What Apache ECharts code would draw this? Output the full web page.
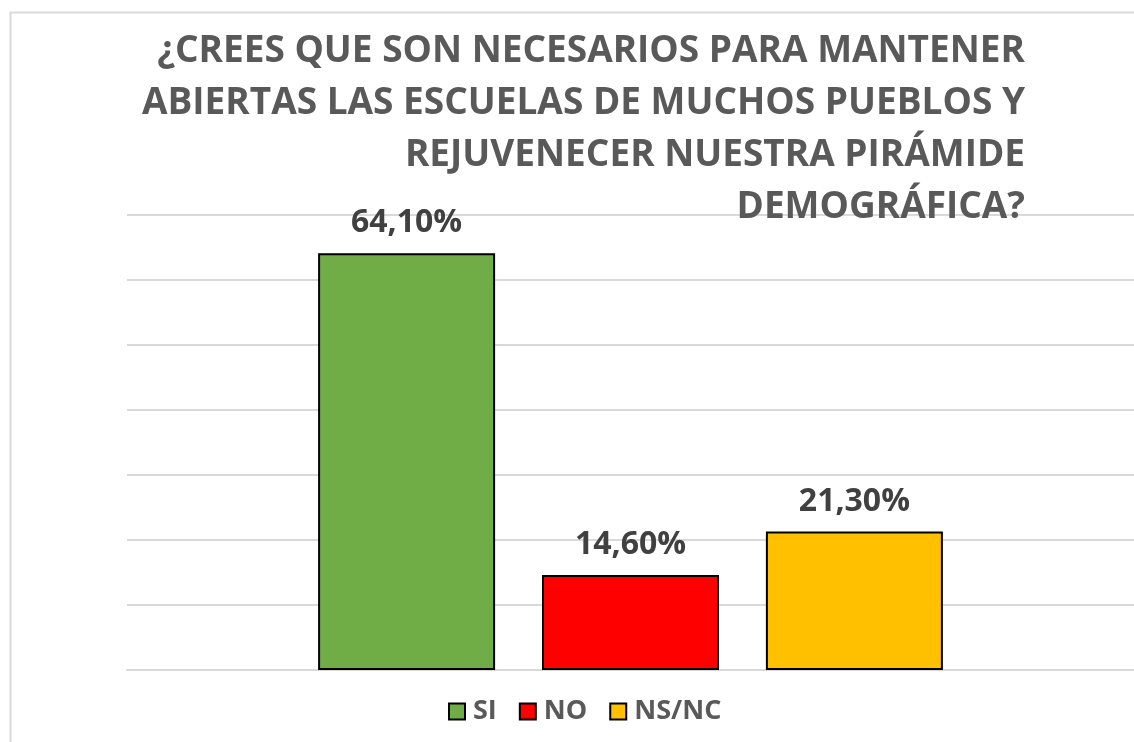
<!DOCTYPE html>
<html>
<head>
<meta charset="utf-8">
<script src="https://cdn.jsdelivr.net/npm/echarts@6/dist/echarts.min.js"></script>
<style>
  html, body { margin: 0; padding: 0; background: #fff; }
  #chart { width: 1134px; height: 742px; }
</style>
</head>
<body>
<div id="chart"></div>
<script>
// 数据
const categories = [''];
const seriesNames = ['SI', 'NO', 'NS/NC'];
const seriesValues = [64.1, 14.6, 21.3];
const seriesColors = ['#70AD47', '#FF0000', '#FFC000'];
const titleText = '¿CREES QUE SON NECESARIOS PARA MANTENER\nABIERTAS LAS ESCUELAS DE MUCHOS PUEBLOS Y\nREJUVENECER NUESTRA PIRÁMIDE\nDEMOGRÁFICA?';

const chart = echarts.init(document.getElementById('chart'));

// 百分比格式（逗号小数）
function fmtPct(v) {
    return v.toFixed(2).replace('.', ',') + '%';
}

const series = seriesNames.map((name, i) => ({
    name: name,
    type: 'bar',
    data: [seriesValues[i]],
    barWidth: 177,
    barGap: '26.5%',
    itemStyle: {
        color: seriesColors[i],
        borderColor: '#000',
        borderWidth: 2
    },
    label: {
        show: true,
        position: 'top',
        distance: 14,
        formatter: p => fmtPct(p.value),
        fontFamily: 'Open Sans',
        fontWeight: 'bold',
        fontSize: 32,
        color: '#404040'
    }
}));

const option = {
    backgroundColor: '#fff',
    animation: false,
    graphic: [
        {
            type: 'rect',
            left: 8,
            top: 10,
            shape: { width: 1200, height: 800 },
            style: { fill: 'none', stroke: '#d9d9d9', lineWidth: 2 },
            silent: true
        }
    ],
    title: {
        text: titleText,
        left: 1020,
        top: 20,
        textAlign: 'right',
        textStyle: {
            fontFamily: 'Open Sans',
            fontWeight: 'bold',
            fontSize: 37,
            lineHeight: 52,
            color: '#595959'
        }
    },
    legend: {
        data: seriesNames,
        left: 443,
        top: 693,
        icon: 'rect',
        itemWidth: 16,
        itemHeight: 16,
        itemGap: 22,
        itemStyle: { borderColor: '#000', borderWidth: 2 },
        textStyle: {
            fontFamily: 'Open Sans',
            fontWeight: 'bold',
            fontSize: 27,
            color: '#595959',
            padding: [0, 0, 0, 3]
        }
    },
    grid: {
        left: 127,
        right: 0,
        top: 215,
        bottom: 72
    },
    xAxis: {
        type: 'category',
        data: categories,
        axisLine: { show: true, lineStyle: { color: '#d9d9d9', width: 2 } },
        axisTick: { show: false },
        axisLabel: { show: false }
    },
    yAxis: {
        type: 'value',
        min: 0,
        max: 70,
        interval: 10,
        axisLine: { show: false },
        axisTick: { show: false },
        axisLabel: { show: false },
        splitLine: { lineStyle: { color: '#d9d9d9', width: 2 } }
    },
    series: series
};

chart.setOption(option);
</script>
</body>
</html>
